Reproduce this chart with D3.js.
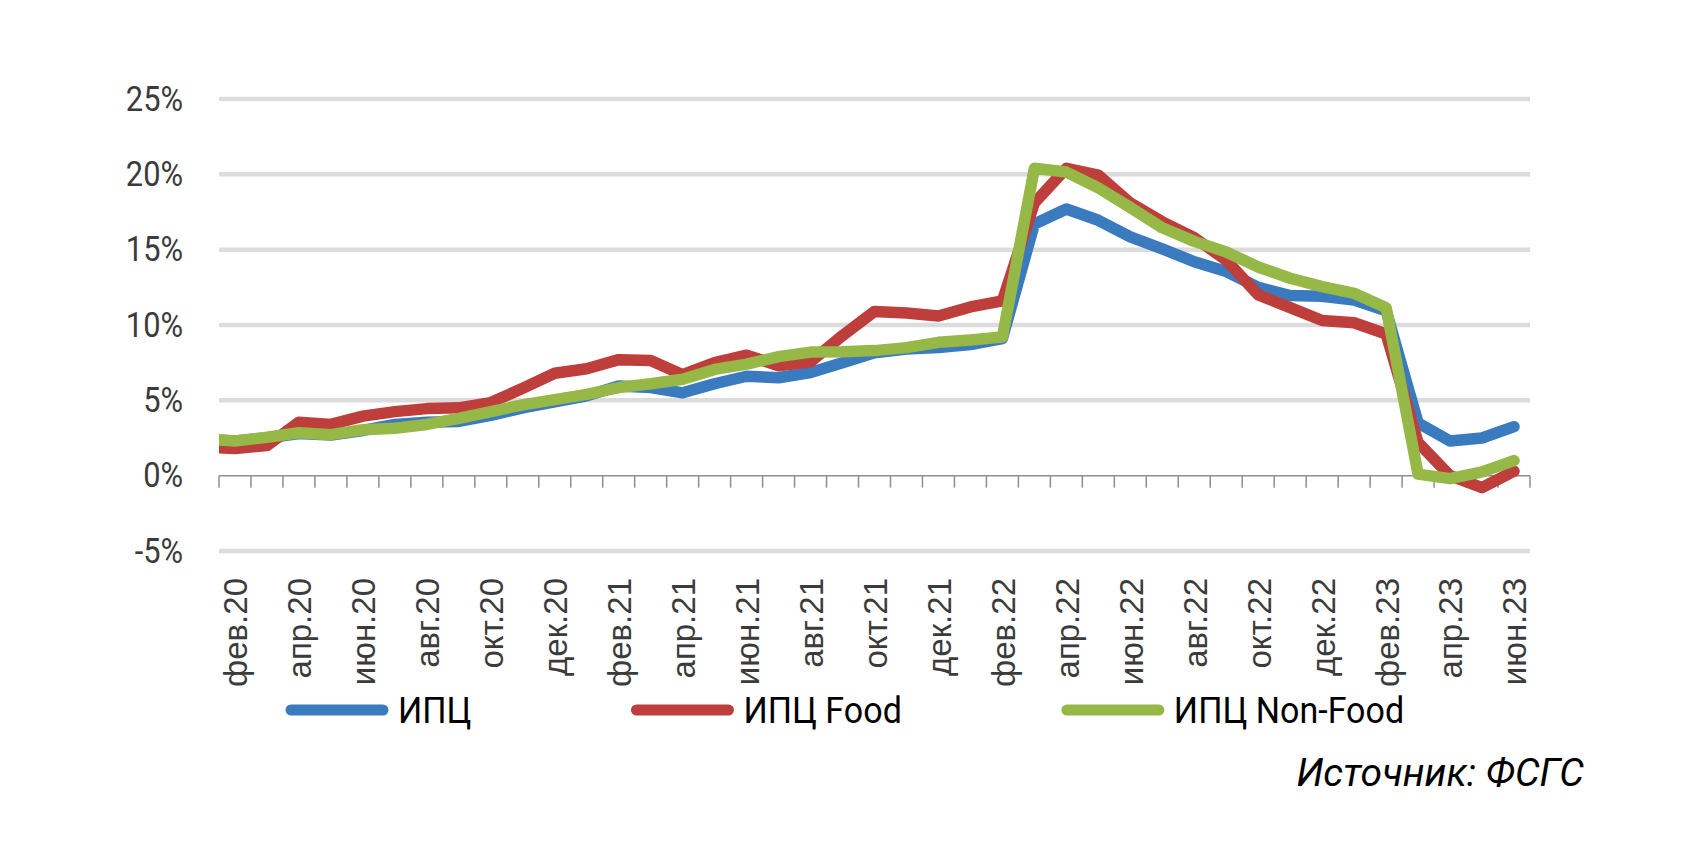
<!DOCTYPE html>
<html>
<head>
<meta charset="utf-8">
<title>ИПЦ, ИПЦ Food, ИПЦ Non-Food</title>
<script src="https://d3js.org/d3.v7.min.js"></script>
<style>
  body { margin: 0; background: #fff; }
</style>
</head>
<body>
<script>
// monthly data, янв.20 sits just left of the plot area and is clipped
var months = ["янв.20","фев.20","мар.20","апр.20","май.20","июн.20","июл.20","авг.20","сен.20","окт.20","ноя.20","дек.20",
              "янв.21","фев.21","мар.21","апр.21","май.21","июн.21","июл.21","авг.21","сен.21","окт.21","ноя.21","дек.21",
              "янв.22","фев.22","мар.22","апр.22","май.22","июн.22","июл.22","авг.22","сен.22","окт.22","ноя.22","дек.22",
              "янв.23","фев.23","мар.23","апр.23","май.23","июн.23"];
var tickLabels = ["фев.20","апр.20","июн.20","авг.20","окт.20","дек.20","фев.21","апр.21","июн.21","авг.21","окт.21",
                  "дек.21","фев.22","апр.22","июн.22","авг.22","окт.22","дек.22","фев.23","апр.23","июн.23"];

var cpi = [2.4, 2.3, 2.5, 2.8, 2.7, 3.0, 3.4, 3.55, 3.6, 4.0, 4.5, 4.9, 5.3, 5.95, 5.85, 5.5, 6.1, 6.6, 6.5, 6.85, 7.5,
           8.15, 8.4, 8.5, 8.7, 9.1, 16.7, 17.7, 16.95, 15.85, 15.05, 14.2, 13.55, 12.5, 11.95, 11.9, 11.65, 10.95,
           3.5, 2.3, 2.5, 3.25];
var cpiFood = [1.9, 1.8, 2.0, 3.55, 3.4, 3.95, 4.25, 4.45, 4.5, 4.85, 5.8, 6.8, 7.1, 7.7, 7.65, 6.7, 7.5, 8.0, 7.3, 7.55, 9.3,
               10.9, 10.8, 10.6, 11.2, 11.6, 18.1, 20.4, 19.95, 18.1, 16.85, 15.8, 14.3, 12.0, 11.15, 10.3, 10.15, 9.4,
               2.2, 0.0, -0.8, 0.3];
var cpiNonFood = [2.45, 2.3, 2.55, 2.85, 2.72, 3.05, 3.15, 3.4, 3.8, 4.25, 4.7, 5.05, 5.4, 5.85, 6.1, 6.4, 7.05, 7.4, 7.9, 8.2, 8.22,
                  8.3, 8.5, 8.85, 9.0, 9.2, 20.4, 20.15, 19.1, 17.8, 16.45, 15.55, 14.85, 13.85, 13.1, 12.55, 12.1, 11.15,
                  0.1, -0.2, 0.25, 1.0];

var seriesNames = ["ИПЦ", "ИПЦ Food", "ИПЦ Non-Food"];
var seriesColors = ["#3a7bbf", "#be3e3b", "#95b846"];
var yTicks = [-5, 0, 5, 10, 15, 20, 25];
var sourceText = "Источник: ФСГС";

var width = 1707, height = 850;
var plotL = 219, plotR = 1530, plotT = 99, plotB = 551;

var svg = d3.select("body").append("svg")
    .attr("width", width)
    .attr("height", height);

var step = (plotR - plotL) / (months.length - 1);
var x = d3.scalePoint()
    .domain(months)
    .range([plotL - step, plotR])
    .padding(0.5);

var y = d3.scaleLinear()
    .domain([-5, 25])
    .range([plotB, plotT]);

// gridlines
svg.append("g")
    .selectAll("line")
    .data(yTicks.filter(d => d != 0))
    .enter()
    .append("line")
        .attr("x1", plotL)
        .attr("x2", plotR)
        .attr("y1", d => y(d))
        .attr("y2", d => y(d))
        .attr("stroke", "#dcdcdc")
        .attr("stroke-width", 4.5);

// y axis labels
var yAxis = svg.append("g")
    .attr("transform", "translate(183,0)")
    .call(d3.axisLeft(y).tickValues(yTicks).tickSize(0).tickPadding(0).tickFormat(d => d + "%"));
yAxis.select(".domain").remove();
yAxis.selectAll("text")
    .attr("font-family", "Roboto")
    .attr("font-size", 35)
    .attr("fill", "#3b3b3b")
    .attr("x", 0)
    .attr("transform", "scale(0.88,1)");

// zero line with tick marks between categories
var zeroY = y(0);
svg.append("line")
    .attr("x1", plotL).attr("x2", plotR)
    .attr("y1", zeroY).attr("y2", zeroY)
    .attr("stroke", "#8f8f8f")
    .attr("stroke-width", 1.5);
svg.append("g")
    .selectAll("line")
    .data(months.slice(1).concat(["end"]))
    .enter()
    .append("line")
        .attr("x1", (d, i) => i < months.length - 1 ? x(d) - step / 2 : plotR)
        .attr("x2", (d, i) => i < months.length - 1 ? x(d) - step / 2 : plotR)
        .attr("y1", zeroY)
        .attr("y2", zeroY + 12)
        .attr("stroke", "#8f8f8f")
        .attr("stroke-width", 1.5);

// x axis labels, rotated
var xAxis = svg.append("g")
    .attr("transform", "translate(0,578)")
    .call(d3.axisBottom(x).tickValues(tickLabels).tickSize(0).tickPadding(0));
xAxis.select(".domain").remove();
xAxis.selectAll("text")
    .attr("font-family", "Liberation Sans, Arial, sans-serif")
    .attr("font-size", 33)
    .attr("fill", "#3b3b3b")
    .attr("text-anchor", "end")
    .attr("transform", "rotate(-90)")
    .attr("x", 0)
    .attr("y", 0)
    .attr("dy", "0.36em");

// lines
svg.append("clipPath").attr("id", "plotclip")
    .append("rect")
    .attr("x", plotL).attr("y", 0)
    .attr("width", plotR - plotL + 20).attr("height", height);

var line = d3.line()
    .x((d, i) => x(months[i]))
    .y(d => y(d));

var allSeries = [cpi, cpiFood, cpiNonFood];
svg.append("g")
    .attr("clip-path", "url(#plotclip)")
    .selectAll("path")
    .data(allSeries)
    .enter()
    .append("path")
        .attr("d", d => line(d))
        .attr("fill", "none")
        .attr("stroke", (d, i) => seriesColors[i])
        .attr("stroke-width", 11.5)
        .attr("stroke-linejoin", "round")
        .attr("stroke-linecap", "round");

// legend
var legend = svg.append("g").attr("transform", "translate(286,710)");
var lx = 0;
seriesNames.forEach(function(name, i) {
    var g = legend.append("g").attr("transform", "translate(" + lx + ",0)");
    g.append("line")
        .attr("x1", 5).attr("x2", 97)
        .attr("y1", 0).attr("y2", 0)
        .attr("stroke", seriesColors[i])
        .attr("stroke-width", 11)
        .attr("stroke-linecap", "round");
    var t = g.append("text")
        .attr("x", 112 / 0.92)
        .attr("y", 13)
        .attr("font-family", "Roboto")
        .attr("font-size", 37)
        .attr("fill", "#000")
        .attr("transform", "scale(0.92,1)")
        .text(name);
    lx += 112 + t.node().getComputedTextLength() * 0.92 + 160;
});

// source note
svg.append("text")
    .attr("x", 1584)
    .attr("y", 786)
    .attr("text-anchor", "end")
    .attr("font-family", "Roboto")
    .attr("font-style", "italic")
    .attr("font-size", 39)
    .attr("fill", "#000")
    .text(sourceText);
</script>
</body>
</html>
